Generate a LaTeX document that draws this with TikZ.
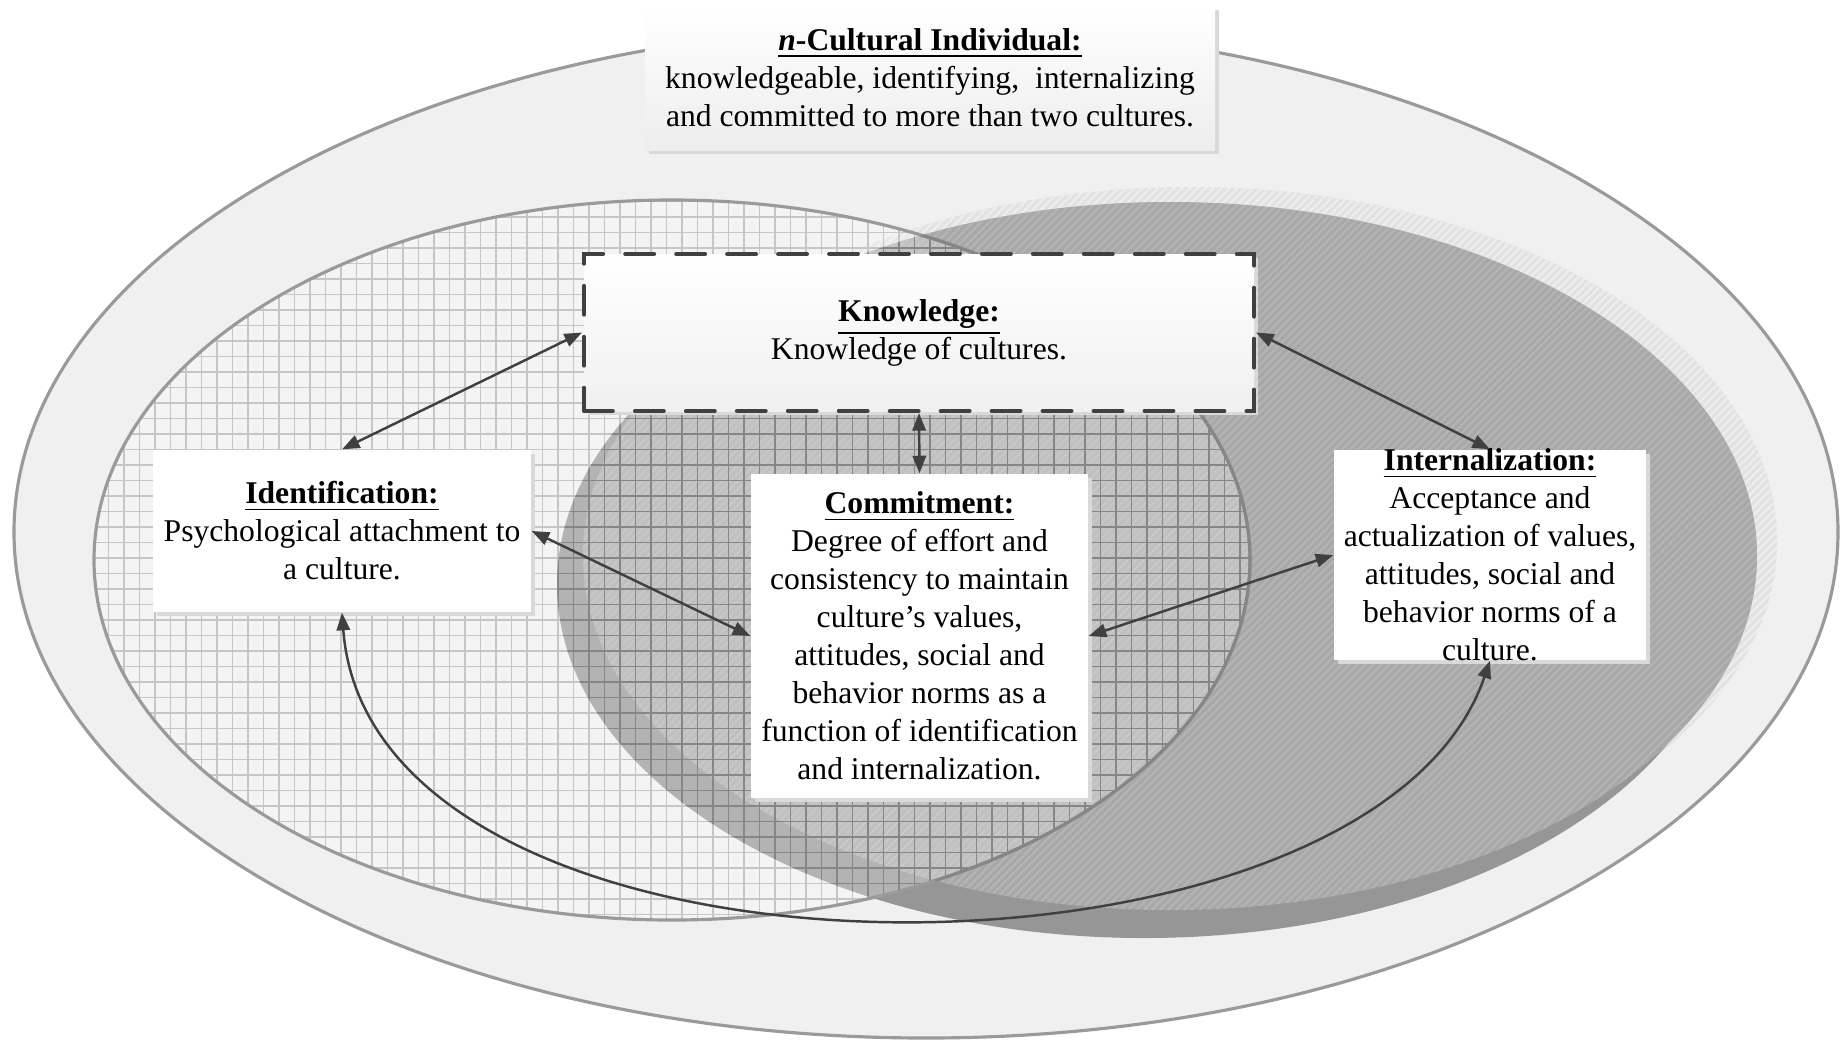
\documentclass[tikz,border=0pt]{standalone}
\usepackage{fontspec}
\setmainfont{Liberation Serif}
\usetikzlibrary{arrows.meta,shadows,patterns.meta}

\definecolor{ringfill}{HTML}{F0F0F0}
\definecolor{ringline}{HTML}{9A9A9A}
\definecolor{gridlight}{HTML}{C6C6C6}
\definecolor{griddark}{HTML}{868686}
\definecolor{facefill}{HTML}{A8A8A8}
\definecolor{facehatch}{HTML}{B4B4B4}
\definecolor{backfill}{HTML}{969696}
\definecolor{glowfill}{HTML}{E2E2E2}
\definecolor{glowhatch}{HTML}{EEEEEE}
\definecolor{arrowgray}{HTML}{404040}

\tikzset{
  card/.style={fill=white, inner sep=0pt,
    drop shadow={shadow xshift=0.04cm, shadow yshift=-0.04cm, fill=black!15, opacity=1}},
  cardtext/.style={align=center, inner sep=0pt, font=\fontsize{9}{10.8}\selectfont},
  hatch/.style={pattern={Lines[angle=45,distance=1.6pt,line width=0.6pt]}},
  link/.style={<->, >={Triangle[length=5pt,width=3.8pt]}, draw=arrowgray, line width=0.7pt},
}

\begin{document}
\begin{tikzpicture}
\useasboundingbox (0,0) rectangle (18.41,-10.44);
\draw[fill=ringfill, draw=ringline, line width=0.9pt] (9.26,-5.32) ellipse (9.12 and 5.06);
\path[preaction={fill=glowfill}, hatch, pattern color=glowhatch] (11.90,-5.41) ellipse (5.87 and 3.54);
\fill[backfill] (11.44,-5.84) ellipse (5.87 and 3.54);
\path[preaction={fill=facefill}, hatch, pattern color=facehatch] (11.70,-5.56) ellipse (5.87 and 3.54);
\fill[white, opacity=0.28] (6.72,-5.60) ellipse (5.78 and 3.60);
\begin{scope}
  \clip (6.72,-5.60) ellipse (5.78 and 3.60);
  \draw[gridlight, line width=0.55pt, step=0.155] (0.9,-9.3) grid (12.6,-1.9);
  \begin{scope}
    \clip (11.70,-5.56) ellipse (5.87 and 3.54);
    \draw[griddark, line width=0.55pt, step=0.155] (0.9,-9.3) grid (12.6,-1.9);
  \end{scope}
  \begin{scope}
    \clip (11.44,-5.84) ellipse (5.87 and 3.54);
    \draw[griddark, line width=0.55pt, step=0.155] (0.9,-9.3) grid (12.6,-1.9);
  \end{scope}
\end{scope}
\draw[ringline, line width=0.9pt] (6.72,-5.60) ellipse (5.78 and 3.60);
\begin{scope}
  \clip (11.70,-5.56) ellipse (5.87 and 3.54);
  \draw[griddark, line width=0.9pt] (6.72,-5.60) ellipse (5.78 and 3.60);
\end{scope}

\node[card, minimum width=5.70cm, minimum height=1.44cm, top color=white, bottom color=black!7] (title) at (9.30,-0.78) {};
\node[cardtext] (title-txt) at (title) {\underline{\textbf{\textit{n}-Cultural Individual:}}\\
  knowledgeable, identifying,~~internalizing\\
  and committed to more than two cultures.};

\node[card, minimum width=6.70cm, minimum height=1.57cm, top color=white, bottom color=black!6,
  draw=arrowgray, line width=1.15pt, dash pattern=on 8.2pt off 6.3pt, line cap=round] (know) at (9.19,-3.325) {};
\node[cardtext] (know-txt) at (know) {\underline{\textbf{Knowledge:}}\\Knowledge of cultures.};

\node[card, minimum width=3.78cm, minimum height=1.62cm] (ident) at (3.42,-5.31) {};
\node[cardtext] (ident-txt) at (ident) {\underline{\textbf{Identification:}}\\
  Psychological attachment to\\a culture.};

\node[card, minimum width=3.37cm, minimum height=3.24cm] (commit) at (9.195,-6.36) {};
\node[cardtext] (commit-txt) at (commit) {\underline{\textbf{Commitment:}}\\
  Degree of effort and\\consistency to maintain\\culture’s values,\\attitudes, social and\\
  behavior norms as a\\function of identification\\and internalization.};

\node[card, minimum width=3.12cm, minimum height=2.10cm] (intern) at (14.90,-5.55) {};
\node[cardtext] (intern-txt) at (intern) {\underline{\textbf{Internalization:}}\\
  Acceptance and\\actualization of values,\\attitudes, social and\\behavior norms of a\\culture.};

\draw[link] (know.west) -- (ident.north);
\draw[link] (know.south) -- (commit.north);
\draw[link] (know.east) -- (intern.north);
\draw[link] (ident.east) -- (commit.west);
\draw[link] (commit.east) -- (intern.west);
\draw[link] (ident.south) .. controls +(0.3,-4.0) and +(-1.2,-3.5) .. (intern.south);
\end{tikzpicture}
\end{document}
